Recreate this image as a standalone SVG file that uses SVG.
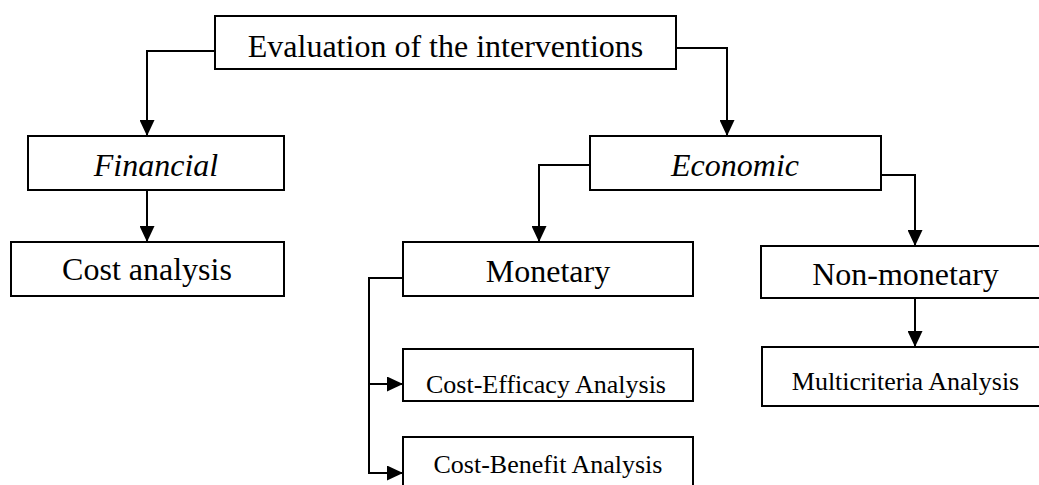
<svg xmlns="http://www.w3.org/2000/svg" width="1039" height="485" viewBox="0 0 1039 485">
<style>
.box{fill:#fff;stroke:#000;stroke-width:2}
.t{font-family:"Liberation Serif","Times New Roman",serif;fill:#000;text-anchor:middle}
.L{font-size:32px}
.S{font-size:26px}
.i{font-style:italic}
.c{fill:none;stroke:#000;stroke-width:2}
</style>
<defs>
<marker id="ah" markerUnits="userSpaceOnUse" markerWidth="16" markerHeight="15" viewBox="0 0 16 15" refX="16" refY="7.5" orient="auto">
<path d="M0,0 L16,7.5 L0,15 Z" fill="#000"/>
</marker>
</defs>
<g id="connectors">
<path class="c" d="M215,51 H147 V136" marker-end="url(#ah)"/>
<path class="c" d="M676,48 H727 V136" marker-end="url(#ah)"/>
<path class="c" d="M147,190 V242" marker-end="url(#ah)"/>
<path class="c" d="M590,165 H539 V242" marker-end="url(#ah)"/>
<path class="c" d="M881,175 H915 V246" marker-end="url(#ah)"/>
<path class="c" d="M915,298 V347" marker-end="url(#ah)"/>
<path class="c" d="M403,278 H369 V473 H403" marker-end="url(#ah)"/>
<path class="c" d="M369,384 H403" marker-end="url(#ah)"/>
</g>
<g id="root">
<rect class="box" x="215" y="16" width="461" height="53"/>
<text class="t L" x="445.5" y="57">Evaluation of the interventions</text>
</g>
<g id="financial">
<rect class="box" x="28" y="136" width="256" height="54"/>
<text class="t L i" x="156" y="176">Financial</text>
</g>
<g id="economic">
<rect class="box" x="590" y="136" width="291" height="54"/>
<text class="t L i" x="735" y="176">Economic</text>
</g>
<g id="cost-analysis">
<rect class="box" x="11" y="242" width="273" height="54"/>
<text class="t L" x="147" y="280">Cost analysis</text>
</g>
<g id="monetary">
<rect class="box" x="403" y="242" width="290" height="54"/>
<text class="t L" x="548" y="282">Monetary</text>
</g>
<g id="non-monetary">
<rect class="box" x="761" y="246" width="290" height="52"/>
<text class="t L" x="905.5" y="285">Non-monetary</text>
</g>
<g id="cost-efficacy">
<rect class="box" x="403" y="349" width="290" height="52"/>
<text class="t S" x="546" y="393">Cost-Efficacy Analysis</text>
</g>
<g id="cost-benefit">
<rect class="box" x="403" y="437" width="290" height="60"/>
<text class="t S" x="548" y="473">Cost-Benefit Analysis</text>
</g>
<g id="multicriteria">
<rect class="box" x="762" y="347" width="290" height="59"/>
<text class="t S" x="905.5" y="390">Multicriteria Analysis</text>
</g>
</svg>
